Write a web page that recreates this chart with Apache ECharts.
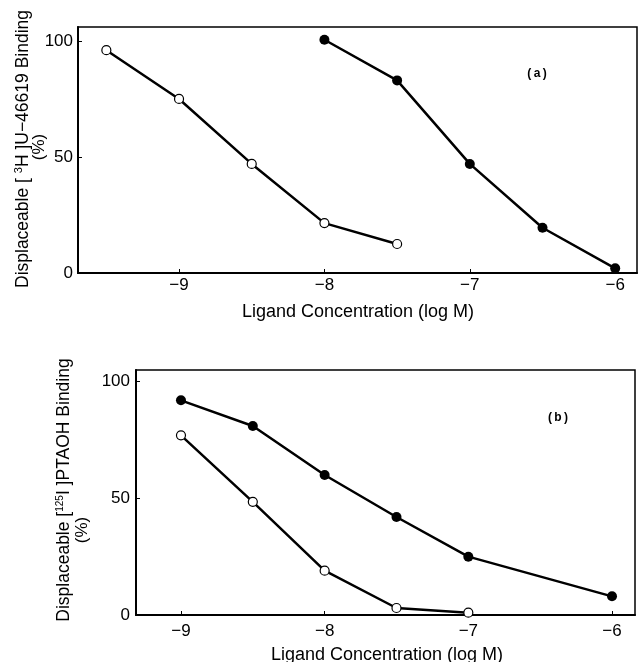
<!DOCTYPE html>
<html>
<head>
<meta charset="utf-8">
<script src="https://cdn.jsdelivr.net/npm/echarts@6/dist/echarts.min.js"></script>
<style>
html,body{margin:0;padding:0;background:#fff;}
#c{width:638px;height:662px;}
</style>
</head>
<body>
<div id="c"></div>
<script>
// Panel (a)
const aOpenX = [-9.5, -9, -8.5, -8, -7.5];
const aOpenY = [96, 75, 47, 21.5, 12.5];
const aFilledX = [-8, -7.5, -7, -6.5, -6];
const aFilledY = [100.5, 83, 47, 19.5, 2];
// Panel (b)
const bFilledX = [-9, -8.5, -8, -7.5, -7, -6];
const bFilledY = [92, 81, 60, 42, 25, 8];
const bOpenX = [-9, -8.5, -8, -7.5, -7];
const bOpenY = [77, 48.5, 19, 3, 1];
// Ticks
const xTicks = [-9, -8, -7, -6];
const yTicks = [0, 50, 100];
const xTitle = 'Ligand Concentration (log M)';

const FONT = '"Liberation Sans", Arial, sans-serif';
const pairs = (xs, ys) => xs.map((x, i) => [x, ys[i]]);

function xAxis(gridIndex, min, max, margin) {
  return {
    type: 'value', gridIndex, min, max,
    axisLine: {show: true, lineStyle: {color: '#000', width: 2}},
    axisTick: {show: true, inside: true, length: 4, customValues: xTicks, lineStyle: {color: '#000', width: 1}},
    axisLabel: {customValues: xTicks, color: '#000', fontSize: 17, fontFamily: FONT, margin,
      formatter: v => (v < 0 ? '\u2212' + Math.abs(v) : String(v))},
    splitLine: {show: false}
  };
}
function yAxis(gridIndex, max, margin) {
  return {
    type: 'value', gridIndex, min: 0, max,
    axisLine: {show: true, lineStyle: {color: '#000', width: 2}},
    axisTick: {show: true, inside: true, length: 4, customValues: yTicks, lineStyle: {color: '#000', width: 1}},
    axisLabel: {customValues: yTicks, color: '#000', fontSize: 17, fontFamily: FONT, margin},
    splitLine: {show: false}
  };
}
function ser(xi, data, filled) {
  return {
    type: 'line', xAxisIndex: xi, yAxisIndex: xi, data,
    symbol: 'circle', symbolSize: filled ? 10 : 9,
    lineStyle: {color: '#000', width: 2.5},
    itemStyle: {color: filled ? '#000' : '#fff', borderColor: '#000', borderWidth: filled ? 0 : 1.2},
    animation: false, z: filled ? 3 : 4
  };
}

const chart = echarts.init(document.getElementById('c'), null, {renderer: 'canvas'});
chart.setOption({
  backgroundColor: '#fff',
  animation: false,
  grid: [
    {left: 78, top: 27, right: 1, bottom: 389, show: true, borderColor: '#000', borderWidth: 1.5},
    {left: 136, top: 370, right: 3, bottom: 47, show: true, borderColor: '#000', borderWidth: 1.5}
  ],
  xAxis: [xAxis(0, -9.695, -5.85, 4), xAxis(1, -9.313, -5.84, 8)],
  yAxis: [yAxis(0, 106, 5), yAxis(1, 105, 6)],
  series: [
    ser(0, pairs(aOpenX, aOpenY), false),
    ser(0, pairs(aFilledX, aFilledY), true),
    ser(1, pairs(bFilledX, bFilledY), true),
    ser(1, pairs(bOpenX, bOpenY), false)
  ],
  graphic: [
    {type: 'text', x: 358, y: 312, style: {text: xTitle, font: '18px ' + FONT, fill: '#000', align: 'center', verticalAlign: 'middle'}},
    {type: 'text', x: 387, y: 655, style: {text: xTitle, font: '18px ' + FONT, fill: '#000', align: 'center', verticalAlign: 'middle'}},
    {type: 'text', x: 23, y: 149, rotation: Math.PI / 2,
      style: {text: 'Displaceable [ {sup|3}H ]U\u221246619 Binding', font: '17.5px ' + FONT, fill: '#000', align: 'center', verticalAlign: 'middle',
        rich: {sup: {fontSize: 11, fontFamily: FONT, verticalAlign: 'top', padding: [0, 0, 8, 0]}}}},
    {type: 'text', x: 39, y: 147, rotation: Math.PI / 2,
      style: {text: '(%)', font: '17px ' + FONT, fill: '#000', align: 'center', verticalAlign: 'middle'}},
    {type: 'text', x: 64, y: 490, rotation: Math.PI / 2,
      style: {text: 'Displaceable [{sup|125}I ]PTAOH Binding', font: '17.5px ' + FONT, fill: '#000', align: 'center', verticalAlign: 'middle',
        rich: {sup: {fontSize: 10, fontFamily: FONT, verticalAlign: 'top', padding: [0, 0, 8, 0]}}}},
    {type: 'text', x: 82, y: 530, rotation: Math.PI / 2,
      style: {text: '(%)', font: '17px ' + FONT, fill: '#000', align: 'center', verticalAlign: 'middle'}},
    {type: 'text', x: 537, y: 74, style: {text: '(\u2009a\u2009)', font: 'bold 12px ' + FONT, fill: '#000', align: 'center', verticalAlign: 'middle'}},
    {type: 'text', x: 558, y: 418, style: {text: '(\u2009b\u2009)', font: 'bold 12px ' + FONT, fill: '#000', align: 'center', verticalAlign: 'middle'}}
  ]
});
</script>
</body>
</html>
